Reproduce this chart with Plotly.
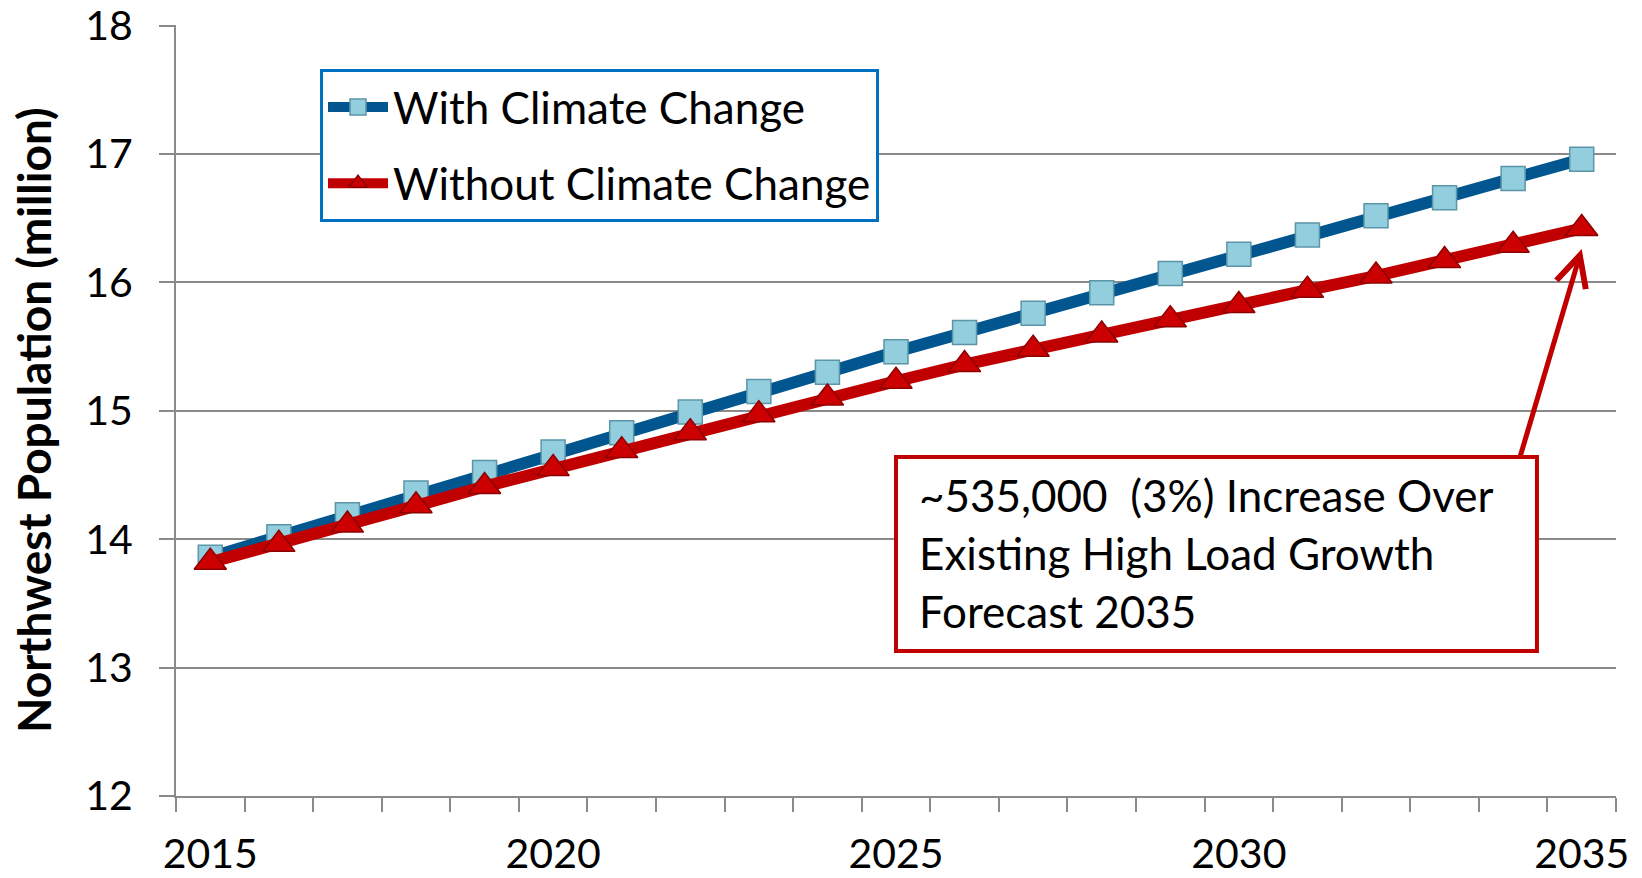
import plotly.graph_objects as go

# Northwest population projections (millions), 2015-2035
years = list(range(2015, 2036))
with_climate = [13.86, 14.02, 14.19, 14.36, 14.52, 14.68, 14.83, 14.99, 15.15, 15.30,
                15.46, 15.61, 15.76, 15.92, 16.07, 16.22, 16.37, 16.52, 16.66, 16.81, 16.96]
without_climate = [13.82, 13.96, 14.11, 14.26, 14.41, 14.55, 14.69, 14.83, 14.97, 15.10,
                   15.23, 15.36, 15.48, 15.59, 15.71, 15.82, 15.94, 16.05, 16.17, 16.29, 16.42]
x_tick_years = [2015, 2020, 2025, 2030, 2035]
y_ticks = [12, 13, 14, 15, 16, 17, 18]

callout_lines = ["~535,000  (3%) Increase Over",
                 "Existing High Load Growth",
                 "Forecast 2035"]

FONT = "Lato"
GRID = "#8A8A8A"

fig = go.Figure()
fig.add_trace(go.Scatter(
    x=years, y=with_climate, name="With Climate Change",
    mode="lines+markers",
    line=dict(color="#02568F", width=12),
    marker=dict(symbol="square", size=24, color="#92CEDD",
                line=dict(color="#5B95A8", width=1.5)),
    legendgroup="a",
))
fig.add_trace(go.Scatter(
    x=years, y=without_climate, name="Without Climate Change",
    mode="lines+markers",
    line=dict(color="#C00000", width=12),
    marker=dict(symbol="triangle-up", size=28, color="#CC0000",
                line=dict(color="#8E0000", width=1.5)),
    legendgroup="b",
))

# callout box with its text lines
fig.add_shape(type="rect", xref="paper", yref="paper",
              x0=0.5, x1=0.9451, y0=0.1881, y1=0.4397,
              line=dict(color="#C00000", width=4), fillcolor="white", layer="above")
for i, line in enumerate(callout_lines):
    fig.add_annotation(xref="paper", yref="paper", x=0.5146, y=0.3905 - i * 0.0752,
                       xanchor="left", yanchor="middle", text=line, showarrow=False,
                       font=dict(family=FONT, size=44, color="black"))

# arrow from callout to the 2035 end point
fig.add_annotation(x=2035, y=16.26, xref="x", yref="y", text="",
                   showarrow=True, ax=-62, ay=209, arrowcolor="#C00000",
                   arrowwidth=5, arrowhead=5, arrowsize=1.2)

# vertical axis title
fig.add_annotation(xref="paper", yref="paper", x=-0.0986, y=0.4877,
                   text="<b>Northwest Population (million)</b>", textangle=-90,
                   showarrow=False, xanchor="center", yanchor="middle",
                   font=dict(family=FONT, size=46, color="black"))

fig.update_layout(
    width=1642, height=878,
    margin=dict(l=176, r=26, t=25, b=82, autoexpand=False),
    paper_bgcolor="white", plot_bgcolor="white",
    font=dict(family=FONT, size=41, color="black"),
    showlegend=True,
    legend=dict(x=0.1, y=0.9429, xanchor="left", yanchor="top",
                bgcolor="white", bordercolor="#0070C0", borderwidth=3,
                font=dict(family=FONT, size=44, color="black"),
                itemwidth=60, traceorder="grouped", tracegroupgap=16),
    xaxis=dict(range=[2014.5, 2035.5], tickmode="array", tickvals=x_tick_years,
               ticktext=[str(v) for v in x_tick_years], ticks="",
               showgrid=False, zeroline=False, automargin=False,
               showline=True, linecolor=GRID, linewidth=2,
               ticklabelstandoff=21, ticklabeloverflow="allow",
               minor=dict(tick0=2014.5, dtick=1, ticks="outside", ticklen=14,
                          tickwidth=2, tickcolor=GRID, showgrid=False)),
    yaxis=dict(range=[12, 18.005], tickmode="array", tickvals=y_ticks,
               showgrid=True, gridcolor=GRID, gridwidth=2, zeroline=False,
               showline=True, linecolor=GRID, linewidth=2, automargin=False,
               ticks="outside", ticklen=15, tickwidth=2, tickcolor=GRID,
               ticklabelstandoff=18, ticklabeloverflow="allow"),
)

fig.write_html("out.html")
